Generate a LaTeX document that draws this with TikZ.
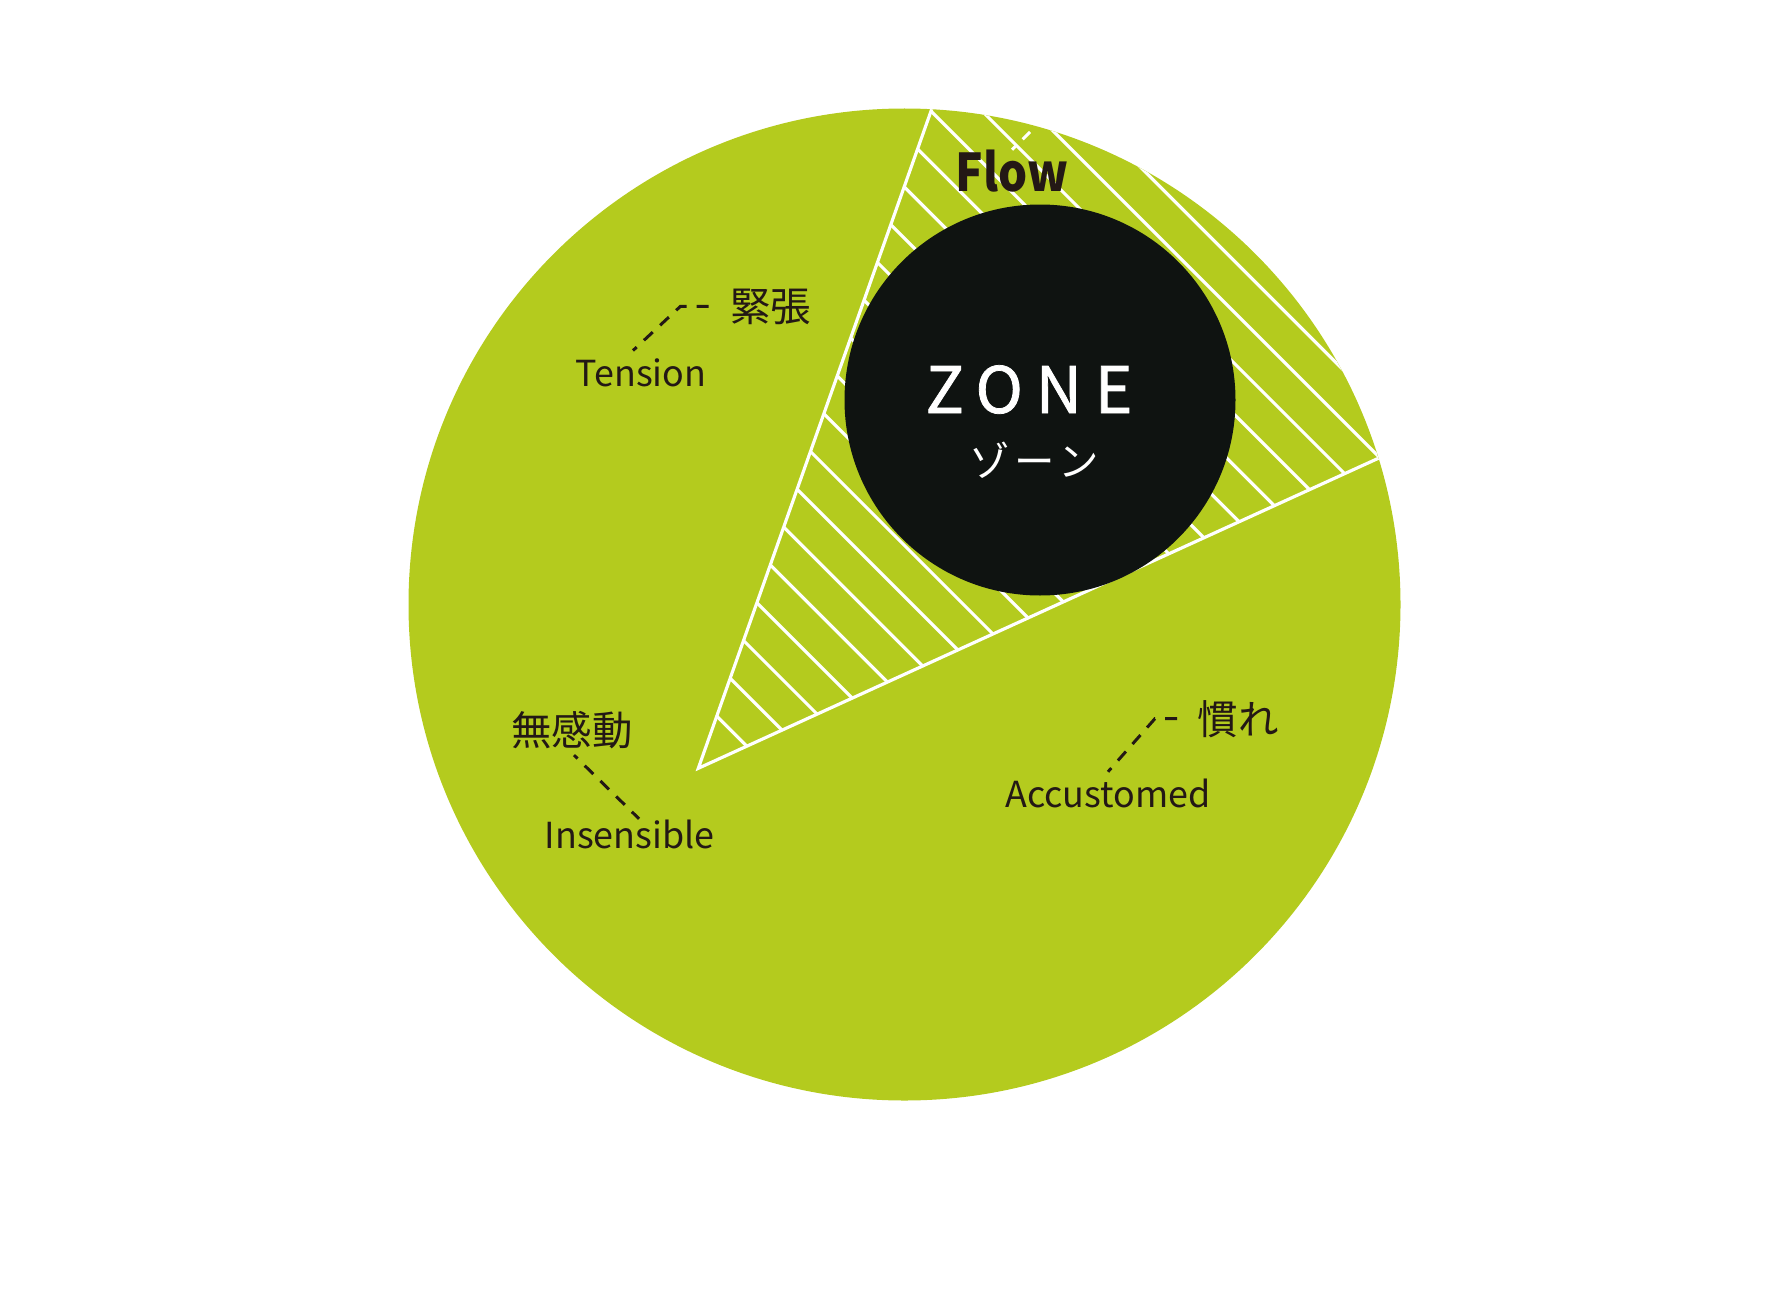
\documentclass[tikz,border=0pt]{standalone}
\usepackage{fontspec}
\setmainfont{Noto Sans CJK JP}
\usepackage{tikz}
\usetikzlibrary{
  positioning,
  calc
}
\definecolor{leaf}{HTML}{B4CB1E}
\definecolor{ink}{HTML}{231815}
\definecolor{core}{HTML}{0F1311}
\tikzstyle{hatchline}=[white, line width=0.9pt]
\tikzstyle{triedge}=[white, line width=0.9pt, line join=miter]
\tikzstyle{leader}=[ink, line width=0.85pt, dash pattern=on 0.12cm off 0.1cm, dash phase=0.07cm]
\tikzstyle{en}=[ink, inner sep=0pt, anchor=base, font=\fontsize{10.2}{12}\selectfont]
\tikzstyle{jp}=[ink, inner sep=0pt, anchor=base, font=\fontsize{11.5}{13}\selectfont]

\begin{document}
\begin{tikzpicture}
    \def\R{4.96} % 外円の半径
    \def\gap{0.512} % 斜線の間隔
    \useasboundingbox (0,0) rectangle (17.72,12.89);

    % 外円
    \coordinate (C) at (9.045,6.845);
    \fill[leaf] (C) circle (\R);

    % 三角形の頂点
    \coordinate (A) at (6.983,5.207);
    \coordinate (T) at ($(C)+(86.86:\R)$);
    \coordinate (R) at ($(C)+(17.15:\R)$);

    % 斜線の描画
    \begin{scope}
      \clip (A) -- (T) arc[start angle=86.86, end angle=17.15, radius=\R] -- cycle;
      \foreach \m in {0,...,20}
        \draw[hatchline] ({12.896+\m*\gap-13},13) -- ({12.896+\m*\gap-3},3);
    \end{scope}

    % 三角形の辺
    \draw[triedge] (T) -- (A) -- (R);

    % ゾーン
    \node[circle, fill=core, minimum size=3.91cm, inner sep=0pt] (zone) at (10.40,8.89) {};
    \node[white, inner sep=0pt, anchor=base, font=\fontsize{18.2}{20}\selectfont\addfontfeature{LetterSpace=20,FakeBold=1.2}] (zone-en) at (10.29,8.76) {ZONE};
    \node[white, inner sep=0pt, anchor=base, font=\fontsize{11.5}{13}\selectfont\addfontfeature{LetterSpace=12}] (zone-jp) at (10.34,8.13) {ゾーン};

    % Flow
    \node[ink, inner sep=0pt, anchor=base, font=\bfseries\fontsize{14.8}{16}\selectfont\addfontfeature{FakeStretch=0.88}] (flow) at (10.12,10.97) {Flow};
    \coordinate (flow-end) at (10.30,11.57);
    \draw[leader, white] (flow.north) -- (flow-end);

    % ラベル
    \node[en] (tension) at (6.41,9.03) {Tension};
    \node[jp] (kincho) at (7.705,9.68) {緊張};
    \node[en] (insensible) at (6.295,4.41) {Insensible};
    \node[jp] (mukando) at (5.72,5.44) {無感動};
    \node[en] (accustomed) at (11.08,4.82) {Accustomed};
    \node[jp] (nare) at (12.38,5.55) {慣れ};

    % 引き出し線
    \coordinate (tension-bend) at ([xshift=-0.49cm]kincho.west);
    \draw[leader] ([xshift=-0.08cm, yshift=0.07cm]tension.north) -- (tension-bend) -- ([xshift=-0.18cm]kincho.west);
    \draw[leader] ([xshift=0.02cm, yshift=-0.06cm]mukando.south) -- ([xshift=0.095cm]insensible.north);
    \coordinate (accustomed-bend) at ([xshift=-0.42cm]nare.west);
    \draw[leader] ([yshift=0.06cm]accustomed.north) -- (accustomed-bend) -- ([xshift=-0.1cm]nare.west);
\end{tikzpicture}
\end{document}
